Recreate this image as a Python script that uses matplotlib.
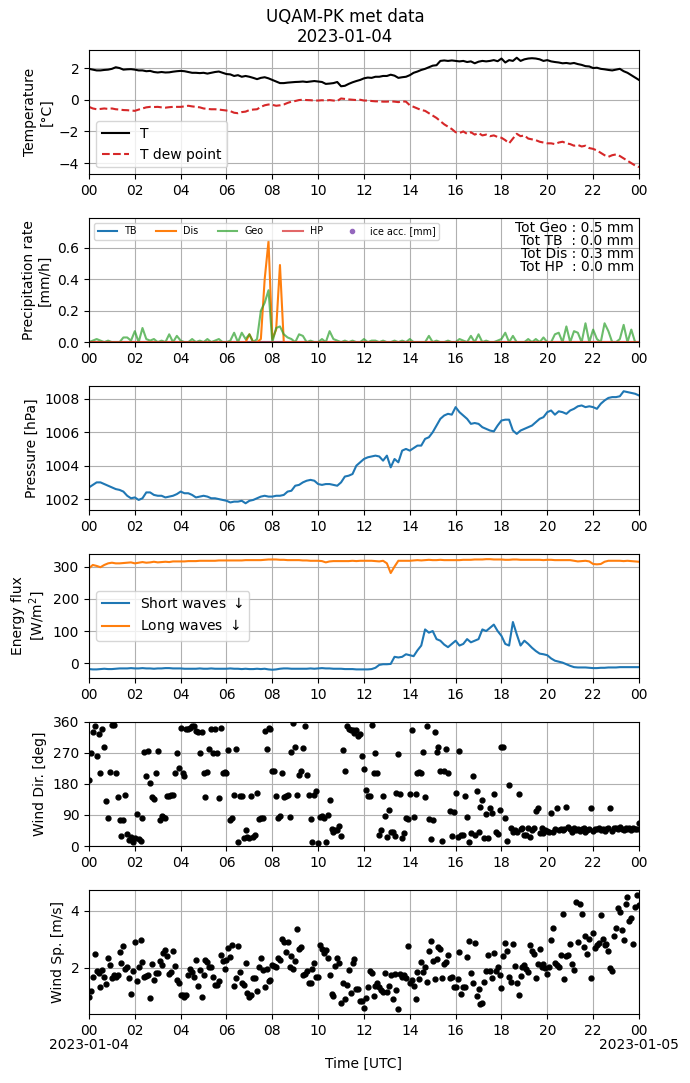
import numpy as np
import pandas as pd
import matplotlib
matplotlib.use('Agg')
import matplotlib.pyplot as plt
import matplotlib.dates as mdates

# time axes: 10 min for the lines, 5 min for the wind samples
t10 = pd.date_range('2023-01-04 00:00', periods=145, freq='10min').to_numpy()
t5 = pd.date_range('2023-01-04 00:00', periods=289, freq='5min').to_numpy()
t_start = np.datetime64('2023-01-04T00:00')
t_end = np.datetime64('2023-01-05T00:00')

temp = [1.95, 1.9, 1.85, 1.85, 1.88, 1.9,
        1.95, 2.05, 2.0, 1.9, 1.92, 1.93,
        1.9, 1.85, 1.85, 1.8, 1.82, 1.75,
        1.72, 1.75, 1.72, 1.73, 1.77, 1.8,
        1.82, 1.8, 1.75, 1.7, 1.7, 1.68,
        1.7, 1.65, 1.7, 1.75, 1.78, 1.7,
        1.62, 1.6, 1.5, 1.55, 1.45, 1.5,
        1.45, 1.38, 1.3, 1.38, 1.42, 1.35,
        1.25, 1.15, 1.05, 1.05, 1.08, 1.1,
        1.12, 1.13, 1.15, 1.12, 1.15, 1.18,
        1.15, 1.12, 1.0, 1.02, 1.05, 1.12,
        0.85, 0.88, 1.0, 1.1, 1.18, 1.25,
        1.35, 1.4, 1.38, 1.45, 1.45, 1.5,
        1.5, 1.58, 1.52, 1.38, 1.42, 1.45,
        1.55, 1.7, 1.78, 1.88, 1.95, 2.05,
        2.15, 2.18, 2.45, 2.48, 2.45, 2.48,
        2.45, 2.42, 2.45, 2.38, 2.42, 2.3,
        2.4, 2.45, 2.42, 2.45, 2.5, 2.43,
        2.6, 2.35, 2.5, 2.45, 2.65, 2.45,
        2.55, 2.6, 2.62, 2.6, 2.55, 2.45,
        2.5, 2.42, 2.38, 2.35, 2.3, 2.32,
        2.28, 2.32, 2.25, 2.2, 2.12, 2.1,
        2.0, 2.02, 1.95, 1.92, 1.88, 1.85,
        1.9, 1.95, 1.8, 1.7, 1.55, 1.4,
        1.25]

t_dew = [-0.45, -0.55, -0.6, -0.58, -0.55, -0.58,
         -0.55, -0.6, -0.62, -0.65, -0.66, -0.68,
         -0.7, -0.62, -0.55, -0.48, -0.45, -0.46,
         -0.45, -0.48, -0.5, -0.47, -0.45, -0.45,
         -0.45, -0.42, -0.38, -0.42, -0.45, -0.48,
         -0.55, -0.58, -0.6, -0.6, -0.62, -0.65,
         -0.68, -0.72, -0.82, -0.85, -0.78, -0.75,
         -0.65, -0.62, -0.6, -0.45, -0.35, -0.3,
         -0.32, -0.38, -0.35, -0.3, -0.2, -0.12,
         -0.08, -0.02, 0.0, -0.02, -0.03, -0.05,
         -0.05, -0.03, -0.05, -0.02, -0.05, -0.08,
         0.08, 0.05, 0.02, 0.0, -0.02, 0.0,
         -0.05, -0.05, -0.08, -0.1, -0.1, -0.12,
         -0.12, -0.1, -0.12, -0.15, -0.1, -0.12,
         -0.35, -0.45, -0.55, -0.65, -0.7, -0.85,
         -1.0, -1.15, -1.35, -1.55, -1.7, -1.85,
         -2.05, -2.1, -2.0, -2.15, -2.05, -2.2,
         -2.1, -2.25, -2.2, -2.3, -2.25, -2.35,
         -2.4, -2.55, -2.75, -2.45, -2.15, -2.3,
         -2.25, -2.45, -2.5, -2.55, -2.65, -2.7,
         -2.75, -2.75, -2.8, -2.7, -2.65, -2.75,
         -2.8, -2.9, -2.85, -2.95, -2.9, -3.05,
         -3.1, -3.2, -3.35, -3.5, -3.6, -3.5,
         -3.45, -3.55, -3.7, -3.85, -4.0, -4.15,
         -4.25]

geo_rate = [0.0, 0.01, 0.02, 0.01, 0.0, 0.01,
            0.0, 0.0, 0.0, 0.03, 0.03, 0.01,
            0.07, 0.0, 0.09, 0.02, 0.01, 0.02,
            0.0, 0.01, 0.0, 0.05, 0.0, 0.04,
            0.01, 0.0, 0.0, 0.02, 0.0, 0.01,
            0.0, 0.02, 0.0, 0.01, 0.02, 0.0,
            0.0, 0.01, 0.06, 0.0, 0.06, 0.02,
            0.05, 0.0, 0.02, 0.2, 0.25, 0.33,
            0.0, 0.09, 0.1, 0.05, 0.03, 0.02,
            0.0, 0.05, 0.04, 0.0, 0.01, 0.0,
            0.0, 0.02, 0.0, 0.07, 0.02, 0.01,
            0.0, 0.01, 0.0, 0.01, 0.0, 0.0,
            0.02, 0.0, 0.01, 0.01, 0.0, 0.01,
            0.0, 0.0, 0.01, 0.0, 0.01, 0.0,
            0.02, 0.0, 0.0, 0.0, 0.0, 0.04,
            0.0, 0.01, 0.0, 0.0, 0.01, 0.0,
            0.0, 0.02, 0.01, 0.0, 0.04, 0.0,
            0.05, 0.0, 0.01, 0.0, 0.0, 0.01,
            0.02, 0.06, 0.0, 0.04, 0.0, 0.0,
            0.0, 0.02, 0.0, 0.02, 0.0, 0.03,
            0.0, 0.0, 0.05, 0.06, 0.0, 0.1,
            0.0, 0.07, 0.06, 0.0, 0.12, 0.0,
            0.08, 0.02, 0.0, 0.12, 0.07, 0.0,
            0.0, 0.02, 0.11, 0.0, 0.08, 0.0,
            0.0]

dis_rate = [0.0] * 42 + [0.05, 0.0, 0.0, 0.02, 0.40, 0.64,
                         0.02, 0.08, 0.49, 0.0] + [0.0] * 93
tb_rate = [0.0] * 145
hp_rate = [0.0] * 145

pres = [1002.7, 1002.85, 1003.0, 1003.0, 1002.9, 1002.8,
        1002.7, 1002.6, 1002.55, 1002.45, 1002.2, 1002.05,
        1002.1, 1001.95, 1002.05, 1002.4, 1002.4, 1002.25,
        1002.2, 1002.2, 1002.1, 1002.15, 1002.2, 1002.3,
        1002.45, 1002.35, 1002.35, 1002.25, 1002.1, 1002.15,
        1002.2, 1002.15, 1002.05, 1002.05, 1002.0, 1001.95,
        1001.9, 1001.8, 1001.85, 1001.85, 1001.9, 1001.75,
        1001.9, 1001.95, 1002.05, 1002.15, 1002.2, 1002.15,
        1002.15, 1002.2, 1002.2, 1002.25, 1002.45, 1002.5,
        1002.8, 1002.85, 1003.0, 1003.1, 1003.15, 1003.1,
        1002.9, 1002.85, 1002.9, 1002.9, 1002.85, 1002.8,
        1003.0, 1003.35, 1003.4, 1003.5, 1004.0, 1004.2,
        1004.4, 1004.5, 1004.55, 1004.6, 1004.55, 1004.3,
        1004.6, 1003.9, 1004.4, 1004.2, 1004.9, 1005.0,
        1004.9, 1005.05, 1005.2, 1005.2, 1005.6, 1005.7,
        1006.0, 1006.4, 1006.8, 1007.0, 1007.1, 1007.05,
        1007.5, 1007.2, 1007.0, 1006.8, 1006.5, 1006.55,
        1006.5, 1006.3, 1006.2, 1006.1, 1006.05, 1006.4,
        1006.7, 1006.75, 1006.75, 1006.1, 1005.9, 1006.1,
        1006.2, 1006.3, 1006.4, 1006.6, 1006.8, 1006.9,
        1007.2, 1007.3, 1007.05, 1007.25, 1007.2, 1007.1,
        1007.3, 1007.4, 1007.55, 1007.6, 1007.5, 1007.55,
        1007.5, 1007.4, 1007.7, 1007.9, 1008.05, 1008.1,
        1008.1, 1008.15, 1008.45, 1008.4, 1008.35, 1008.3,
        1008.2]

sw_down = [-18, -19, -19, -18, -17, -18,
           -18, -17, -16, -16, -16, -15,
           -16, -16, -15, -16, -16, -17,
           -16, -16, -15, -15, -16, -16,
           -16, -17, -17, -17, -17, -16,
           -17, -17, -16, -17, -17, -17,
           -17, -16, -17, -17, -18, -17,
           -18, -18, -17, -18, -17, -19,
           -20, -19, -17, -16, -16, -17,
           -17, -17, -17, -17, -16, -17,
           -16, -15, -16, -16, -17, -17,
           -17, -18, -18, -18, -19, -19,
           -19, -19, -18, -14, -5, -3,
           -3, -2, 20, 18, 20, 28,
           25, 22, 40, 55, 105, 95,
           100, 75, 70, 58, 50, 60,
           70, 55, 60, 75, 65, 70,
           75, 105, 100, 110, 120, 100,
           85, 60, 55, 128, 90, 55,
           70, 60, 48, 38, 30, 28,
           25, 15, 8, 5, 2, -3,
           -8, -12, -13, -13, -13, -14,
           -15, -15, -14, -14, -13, -13,
           -13, -12, -12, -12, -12, -12,
           -12]

lw_down = [295, 305, 302, 298, 305, 310,
           312, 310, 310, 311, 312, 313,
           310, 312, 314, 312, 313, 315,
           313, 314, 315, 314, 316, 316,
           316, 316, 317, 317, 317, 318,
           318, 318, 318, 318, 319, 319,
           319, 319, 319, 319, 319, 320,
           320, 320, 320, 320, 321, 322,
           322, 322, 321, 321, 320, 320,
           320, 320, 319, 319, 318, 318,
           318, 317, 313, 316, 317, 317,
           317, 317, 317, 318, 317, 318,
           318, 318, 318, 317, 316, 318,
           310, 280, 300, 318, 318, 318,
           318, 319, 320, 319, 320, 321,
           320, 320, 321, 320, 320, 320,
           320, 320, 321, 321, 321, 322,
           322, 322, 323, 323, 322, 322,
           322, 321, 321, 322, 322, 321,
           321, 321, 321, 321, 321, 320,
           321, 321, 320, 320, 320, 320,
           320, 318, 316, 317, 318, 316,
           308, 307, 308, 315, 318, 318,
           318, 318, 317, 318, 317, 316,
           315]

wind_dir = [190, 270, 331, 348, 262, 324, 210, 340, 286, 131, 81, 215,
            350, 350, 212, 142, 76, 29, 76, 148, 35, 17, 25, 13,
            22, 93, 20, 15, 81, 272, 204, 276, 183, 142, 136, 210,
            276, 76, 88, 84, 82, 146, 146, 148, 148, 210, 268, 227,
            343, 210, 202, 340, 340, 343, 346, 348, 333, 331, 270, 329,
            210, 142, 215, 282, 340, 268, 340, 268, 139, 343, 212, 215,
            210, 278, 76, 81, 148, 282, 13, 146, 146, 22, 47, 25,
            22, 146, 25, 31, 154, 78, 81, 81, 333, 280, 343, 338,
            218, 218, 146, 81, 86, 212, 142, 146, 148, 84, 272, 356,
            288, 148, 205, 218, 284, 346, 205, 148, 78, 13, 148, 158,
            9, 84, 88, 81, 13, 90, 134, 50, 42, 47, 47, 58,
            29, 278, 218, 348, 340, 336, 336, 327, 336, 319, 324, 262,
            224, 163, 146, 144, 350, 210, 270, 212, 32, 47, 146, 88,
            27, 105, 41, 41, 29, 154, 265, 152, 24, 37, 81, 79,
            151, 335, 84, 151, 210, 214, 212, 272, 142, 348, 78, 19,
            76, 331, 272, 288, 216, 14, 216, 282, 210, 101, 29, 98,
            154, 25, 276, 33, 32, 146, 84, 11, 37, 204, 31, 160,
            42, 112, 134, 23, 93, 23, 109, 97, 151, 41, 35, 105,
            288, 288, 81, 15, 177, 53, 42, 47, 41, 151, 49, 51,
            32, 31, 51, 25, 47, 51, 100, 109, 39, 51, 39, 47,
            43, 41, 95, 41, 49, 109, 47, 49, 47, 49, 114, 56,
            48, 42, 52, 46, 50, 44, 48, 52, 40, 46, 50, 109,
            45, 50, 48, 52, 46, 50, 44, 49, 53, 109, 45, 51,
            52, 48, 55, 50, 47, 53, 49, 51, 46, 52, 48, 50,
            66]

wind_sp = [0.99, 1.19, 1.67, 2.49, 1.91, 1.84, 1.32, 1.93, 1.67, 1.44, 2.34, 2.10,
           1.64, 1.75, 1.70, 1.75, 2.55, 2.16, 2.77, 1.95, 2.05, 1.64, 1.09, 1.91,
           2.91, 1.53, 2.02, 2.98, 2.21, 1.67, 1.72, 1.75, 0.95, 2.14, 1.58, 1.84,
           1.84, 2.26, 2.09, 2.54, 2.63, 2.42, 1.79, 1.87, 2.58, 2.07, 1.58, 1.49,
           1.05, 1.04, 0.99, 1.05, 1.74, 1.95, 1.86, 1.67, 2.28, 1.37, 1.93, 0.98,
           1.74, 2.28, 2.21, 2.02, 2.02, 1.67, 1.40, 1.40, 1.56, 2.46, 2.26, 1.95,
           2.28, 2.69, 2.37, 2.81, 1.37, 1.64, 2.77, 1.86, 1.49, 1.40, 2.16, 1.11,
           0.99, 1.05, 1.64, 1.64, 1.20, 2.02, 2.34, 1.93, 1.32, 1.95, 1.54, 1.58,
           2.10, 2.07, 2.02, 2.34, 2.28, 3.00, 2.91, 2.57, 2.92, 2.02, 2.42, 1.95,
           2.26, 3.36, 2.65, 2.73, 1.74, 1.79, 1.91, 1.49, 1.46, 1.95, 2.16, 1.70,
           1.67, 2.81, 2.65, 2.54, 2.63, 2.34, 1.74, 1.09, 1.02, 2.07, 2.34, 2.16,
           0.76, 1.46, 0.90, 1.40, 1.93, 1.11, 2.16, 2.30, 1.25, 1.25, 0.85, 0.85,
           0.61, 0.94, 1.32, 1.91, 1.81, 1.02, 1.37, 1.46, 1.32, 1.23, 1.17, 1.81,
           1.17, 1.37, 1.75, 0.90, 1.79, 1.23, 0.58, 1.79, 1.70, 1.75, 1.64, 2.77,
           1.46, 1.58, 1.37, 0.90, 1.86, 1.60, 2.22, 1.86, 2.02, 1.52, 2.58, 2.96,
           2.23, 1.63, 2.33, 2.75, 2.65, 1.64, 2.14, 2.22, 2.44, 1.64, 1.67, 1.32,
           1.32, 1.63, 2.56, 1.09, 1.35, 1.35, 2.37, 2.94, 1.81, 1.49, 2.87, 1.02,
           1.25, 0.74, 0.78, 1.51, 1.91, 2.44, 1.91, 1.64, 2.51, 1.91, 2.05, 1.75,
           1.29, 2.42, 2.87, 2.58, 1.70, 1.52, 2.84, 2.07, 1.49, 1.05, 1.72, 2.02,
           2.09, 1.95, 1.87, 2.80, 2.58, 2.49, 1.64, 2.14, 2.65, 2.02, 2.14, 1.99,
           1.79, 2.05, 2.98, 3.38, 2.16, 2.10, 2.02, 2.47, 3.89, 1.60, 2.42, 2.47,
           2.84, 2.14, 1.93, 4.29, 2.91, 4.25, 3.89, 2.73, 3.12, 2.49, 3.00, 1.64,
           3.24, 2.70, 2.80, 2.89, 3.85, 3.03, 2.80, 2.84, 2.61, 1.99, 1.91, 3.12,
           3.38, 4.08, 3.96, 3.33, 2.98, 4.25, 4.48, 3.64, 3.74, 2.84, 4.13, 4.55,
           4.20]

totals_text = 'Tot Geo : 0.5 mm\nTot TB  : 0.0 mm\nTot Dis : 0.3 mm\nTot HP  : 0.0 mm'

fig, axs = plt.subplots(6, 1, figsize=(6.9, 10.83), dpi=100)
fig.subplots_adjust(left=0.129, right=0.926, top=0.954, bottom=0.0637, hspace=0.35)
fig.suptitle('UQAM-PK met data\n2023-01-04', fontsize=12, y=0.993)

ax = axs[0]
ax.plot(t10, temp, color='k', label='T')
ax.plot(t10, t_dew, color='C3', ls='--', label='T dew point')
ax.set_ylim(-4.7, 3.15)
ax.set_yticks([-4, -2, 0, 2])
ax.set_ylabel('Temperature\n[°C]')
ax.legend(loc='lower left')

ax = axs[1]
ax.plot(t10, tb_rate, color='C0', label='TB')
ax.plot(t10, dis_rate, color='C1', label='Dis')
ax.plot(t10, geo_rate, color='C2', alpha=0.7, label='Geo')
ax.plot(t10, hp_rate, color='C3', alpha=0.7, label='HP')
ax.plot([], [], '.', color='C4', label='ice acc. [mm]')
ax.set_ylim(0, 0.79)
ax.set_ylabel('Precipitation rate\n[mm/h]')
ax.legend(loc='upper left', ncol=5, fontsize='x-small')
ax.text(0.991, 0.975, totals_text, transform=ax.transAxes, ha='right', va='top',
        linespacing=0.9)

ax = axs[2]
ax.plot(t10, pres, color='C0')
ax.set_ylim(1001.34, 1008.78)
ax.set_yticks([1002, 1004, 1006, 1008])
ax.set_ylabel('Pressure [hPa]')

ax = axs[3]
ax.plot(t10, sw_down, color='C0', label='Short waves $\\downarrow$')
ax.plot(t10, lw_down, color='C1', label='Long waves $\\downarrow$')
ax.set_ylim(-46, 340)
ax.set_yticks([0, 100, 200, 300])
ax.set_ylabel('Energy flux\n[W/m$^2$]')
ax.legend(loc='center left')

ax = axs[4]
ax.plot(t5, wind_dir, 'o', color='k', markersize=3.5)
ax.set_ylim(0, 360)
ax.set_yticks([0, 90, 180, 270, 360])
ax.set_ylabel('Wind Dir. [deg]')

ax = axs[5]
ax.plot(t5, wind_sp, 'o', color='k', markersize=3.5)
ax.set_ylim(0.39, 4.74)
ax.set_yticks([2, 4])
ax.set_ylabel('Wind Sp. [m/s]')
ax.set_xlabel('Time [UTC]')

for ax in axs:
    ax.set_xlim(t_start, t_end)
    ax.xaxis.set_major_locator(mdates.HourLocator(byhour=range(0, 24, 2)))
    ax.xaxis.set_major_formatter(mdates.DateFormatter('%H'))
    ax.grid(True)

# dates under the first and last tick of the bottom panel
axs[5].xaxis.remove_overlapping_locs = False
axs[5].xaxis.set_minor_locator(mdates.DayLocator())
axs[5].xaxis.set_minor_formatter(mdates.DateFormatter('%Y-%m-%d'))
axs[5].tick_params(axis='x', which='minor', pad=17, length=0)

fig.savefig('out.png', dpi=100)
